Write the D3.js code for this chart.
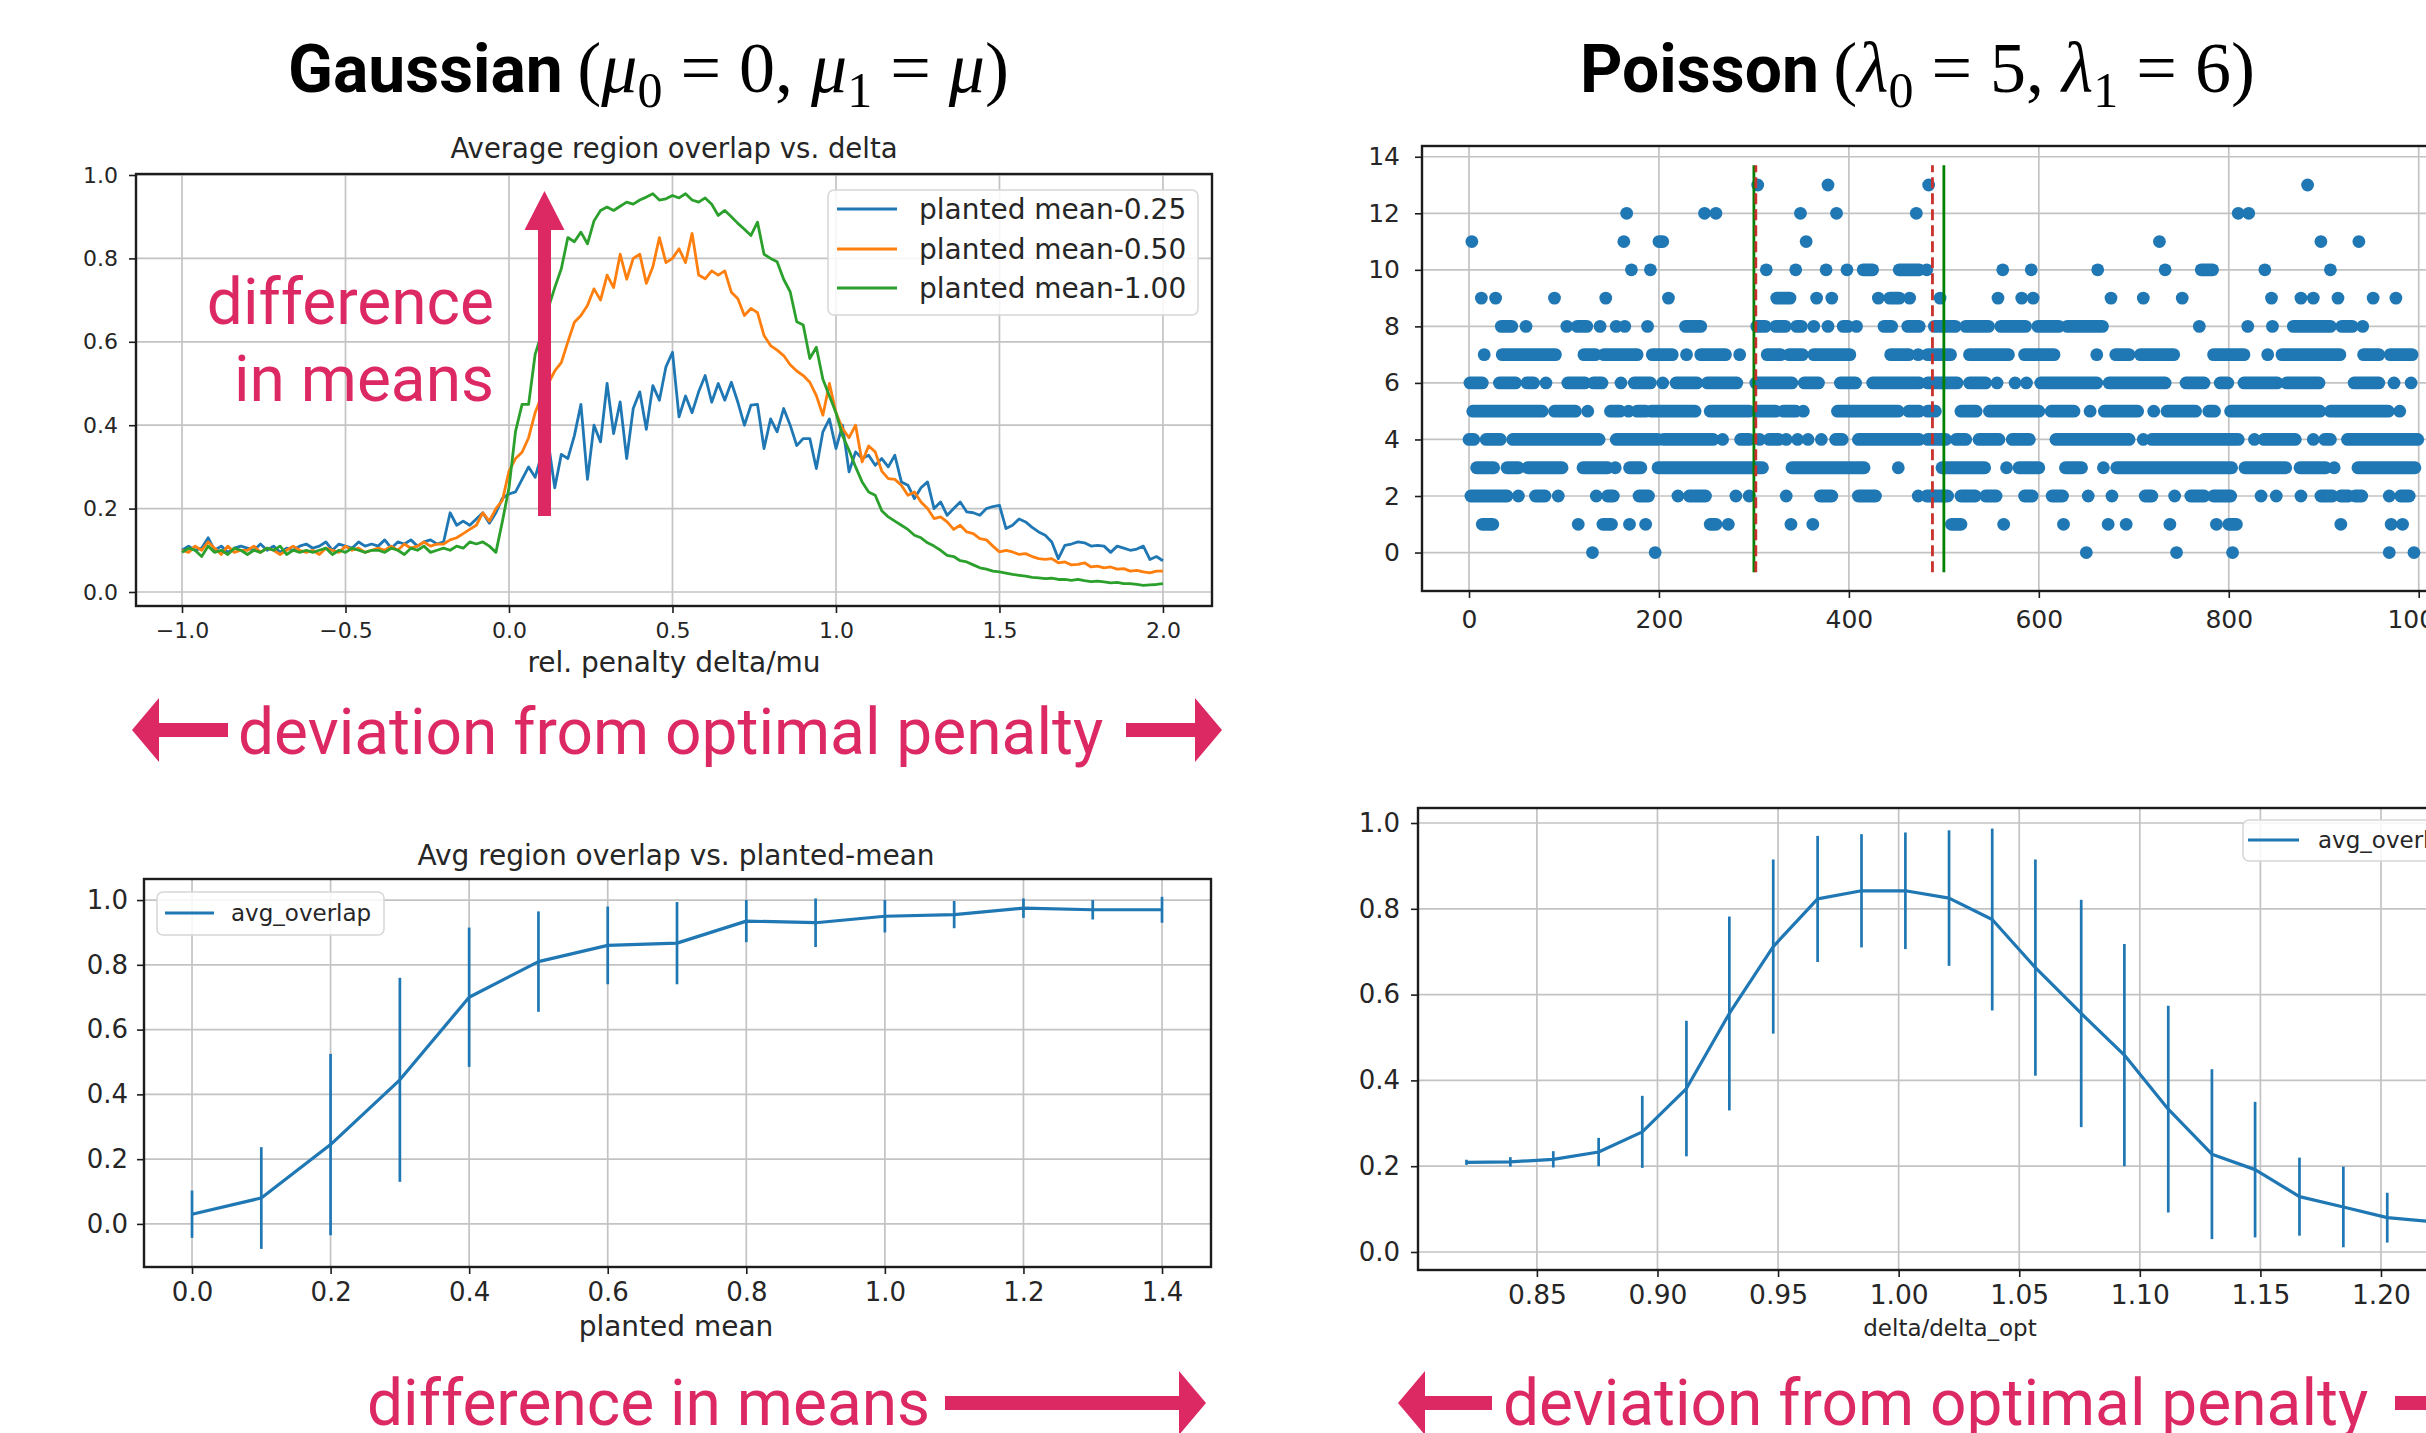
<!DOCTYPE html>
<html><head><meta charset="utf-8">
<script src="https://cdn.jsdelivr.net/npm/d3@7"></script>
<style>body{margin:0;background:#fff;} svg{display:block;}</style>
</head><body>
<svg id="c" width="2426" height="1433"></svg>
<script>
// ---------------- DATA ----------------
// Top-left: average region overlap vs. relative penalty delta/mu
const deltaGrid = d3.range(151).map(i => -1 + 0.02 * i);
const seriesLabels = ['planted mean-0.25', 'planted mean-0.50', 'planted mean-1.00'];
const overlap025 = [
 0.10,0.11,0.10,0.105,0.13,0.10,0.11,0.095,0.105,0.11,
 0.105,0.10,0.115,0.10,0.11,0.095,0.105,0.10,0.11,0.115,
 0.105,0.11,0.12,0.10,0.115,0.11,0.105,0.12,0.11,0.115,
 0.11,0.125,0.105,0.12,0.115,0.125,0.11,0.12,0.125,0.115,
 0.12,0.19,0.16,0.17,0.16,0.175,0.19,0.165,0.19,0.225,
 0.235,0.24,0.27,0.30,0.275,0.33,0.36,0.25,0.33,0.32,
 0.375,0.45,0.27,0.40,0.36,0.50,0.38,0.456,0.32,0.44,
 0.48,0.39,0.495,0.46,0.54,0.575,0.42,0.47,0.43,0.48,
 0.519,0.455,0.50,0.46,0.503,0.455,0.40,0.448,0.45,0.344,
 0.415,0.384,0.44,0.40,0.351,0.368,0.368,0.296,0.384,0.415,
 0.344,0.40,0.288,0.336,0.32,0.328,0.304,0.32,0.30,0.328,
 0.264,0.256,0.224,0.25,0.264,0.20,0.216,0.184,0.20,0.216,
 0.192,0.19,0.184,0.20,0.205,0.208,0.152,0.16,0.175,0.168,
 0.155,0.144,0.136,0.12,0.08,0.112,0.115,0.12,0.118,0.11,
 0.112,0.11,0.095,0.11,0.105,0.10,0.103,0.11,0.078,0.085,0.075];
const overlap050 = [
 0.10,0.095,0.11,0.10,0.12,0.105,0.09,0.11,0.095,0.10,
 0.10,0.11,0.095,0.105,0.10,0.09,0.10,0.11,0.10,0.095,
 0.10,0.09,0.105,0.10,0.095,0.11,0.10,0.105,0.095,0.10,
 0.105,0.10,0.11,0.10,0.115,0.105,0.11,0.12,0.11,0.115,
 0.115,0.125,0.13,0.14,0.15,0.16,0.19,0.17,0.20,0.22,
 0.29,0.32,0.335,0.37,0.43,0.47,0.50,0.53,0.55,0.60,
 0.647,0.663,0.687,0.727,0.70,0.76,0.73,0.81,0.75,0.80,
 0.81,0.74,0.78,0.85,0.79,0.80,0.823,0.79,0.86,0.76,
 0.751,0.77,0.76,0.77,0.719,0.703,0.663,0.68,0.67,0.615,
 0.591,0.58,0.567,0.545,0.53,0.519,0.503,0.471,0.424,0.50,
 0.43,0.392,0.37,0.40,0.312,0.35,0.336,0.29,0.272,0.27,
 0.256,0.232,0.24,0.216,0.20,0.176,0.18,0.168,0.15,0.16,
 0.144,0.14,0.128,0.125,0.11,0.096,0.10,0.096,0.09,0.092,
 0.085,0.08,0.078,0.08,0.07,0.072,0.065,0.066,0.07,0.06,
 0.062,0.058,0.06,0.055,0.056,0.05,0.052,0.048,0.046,0.05,0.05];
const overlap100 = [
 0.095,0.105,0.10,0.085,0.11,0.095,0.10,0.09,0.105,0.10,
 0.09,0.10,0.095,0.105,0.10,0.11,0.09,0.10,0.095,0.10,
 0.095,0.10,0.105,0.09,0.10,0.095,0.105,0.10,0.095,0.10,
 0.10,0.095,0.105,0.10,0.09,0.105,0.10,0.11,0.095,0.10,
 0.105,0.10,0.11,0.105,0.12,0.115,0.12,0.11,0.095,0.17,
 0.25,0.385,0.45,0.45,0.57,0.62,0.68,0.73,0.775,0.85,
 0.84,0.863,0.835,0.89,0.915,0.923,0.915,0.925,0.935,0.93,
 0.94,0.947,0.955,0.94,0.943,0.951,0.945,0.955,0.94,0.935,
 0.945,0.93,0.903,0.915,0.90,0.884,0.87,0.855,0.887,0.81,
 0.80,0.792,0.75,0.72,0.648,0.64,0.56,0.587,0.51,0.47,
 0.43,0.375,0.34,0.30,0.264,0.24,0.232,0.195,0.18,0.17,
 0.16,0.15,0.136,0.13,0.118,0.11,0.10,0.088,0.085,0.075,
 0.072,0.065,0.058,0.055,0.05,0.048,0.045,0.042,0.04,0.038,
 0.035,0.034,0.032,0.033,0.03,0.03,0.028,0.03,0.027,0.025,
 0.026,0.024,0.022,0.023,0.02,0.02,0.018,0.016,0.017,0.018,0.02];

// Top-right: Poisson sequence; for each count level, runs [start, end] of consecutive-looking dots
const poissonRunsByLevel = [
 /*0*/  [[130],[196],[650],[745],[804],[969],[995]],
 /*1*/  [[14,25],[115],[141,150],[169],[186],[254,260],[273],[339],[362],[508,518],[563],[626],[673],[692],[738],[787],[800,808],[918],[971],[983]],
 /*2*/  [[2,40],[52],[70,80],[94],[134],[146,152],[179,189],[220],[232,249],[281],[295],[334],[370,382],[410,428],[473],[482,504],[518,533],[544,555],[585,593],[614,625],[652],[677],[712,719],[743],[760,774],[784,802],[834],[850],[876],[897,909],[918,926],[933,940],[969],[981,990]],
 /*3*/  [[8,26],[40,52],[62,98],[120,146],[154],[169,181],[199,309],[340,416],[452],[498,543],[566],[579,600],[628,645],[668],[682,803],[817,860],[875,902],[911],[936,996]],
 /*4*/  [[0,5],[18,33],[46,137],[155,199],[205,257],[267],[286,295],[306],[316,326],[334],[346],[357],[371],[386,393],[410,474],[483,502],[513,523],[537,558],[572,590],[618,695],[710],[719,810],[827],[837,870],[889],[901,907],[925,999]],
 /*5*/  [[4,77],[90,112],[125],[149,159],[168],[177,186],[192,238],[254,295],[303,323],[331,344],[352],[388,452],[463,474],[483,491],[518,534],[548,600],[613,637],[654],[669,704],[721],[735,765],[779,785],[802,896],[907,968],[980]],
 /*6*/  [[1,14],[32,49],[61,68],[81],[104,122],[131,140],[160],[174,191],[204],[218,240],[251,282],[302,340],[353,368],[391,407],[425,474],[483,514],[527,544],[556],[575],[587],[602,661],[674,733],[755,774],[791,799],[816,851],[861,895],[932,958],[974],[992]],
 /*7*/  [[16],[35,91],[121,133],[142,177],[193,214],[229],[244,270],[285],[314,328],[337,351],[363,401],[444,463],[473],[483,507],[527,568],[585,616],[661],[681,695],[707,742],[784,816],[841],[856,917],[942,958],[970,993]],
 /*8*/  [[34,45],[60],[103],[114,124],[138],[155],[164],[188],[228,244],[303,312],[323,333],[345,350],[363],[378],[394,399],[408],[437,445],[462,474],[490,512],[523,547],[560,586],[599,621],[630,667],[769],[820],[846],[868,907],[919,930],[941]],
 /*9*/  [[13],[28],[90],[144],[210],[324,338],[366],[382],[431],[443,453],[464],[496],[557],[582],[594],[676],[710],[751],[845],[876],[889],[915],[952],[976]],
 /*10*/ [[171],[191],[313],[344],[376],[398],[415,425],[453,474],[482],[562],[592],[662],[733],[771,783],[838],[907]],
 /*11*/ [[3],[163],[200,204],[355],[727],[897],[937]],
 /*12*/ [[166],[248],[260],[349],[387],[471],[810],[821]],
 /*13*/ [[304],[378],[484],[883]]
];
const trueChangepoints = [300, 500];
const estChangepoints = [302, 488];

// Bottom-left: avg overlap vs planted mean
const plantedMean = [0.0,0.1,0.2,0.3,0.4,0.5,0.6,0.7,0.8,0.9,1.0,1.1,1.2,1.3,1.4];
const avgOverlapMean = [0.03,0.08,0.245,0.445,0.70,0.81,0.86,0.867,0.935,0.93,0.95,0.955,0.975,0.97,0.97];
const avgOverlapErr  = [0.073,0.157,0.28,0.315,0.215,0.155,0.12,0.127,0.065,0.075,0.05,0.042,0.03,0.03,0.04];

// Bottom-right: avg overlap vs delta/delta_opt
const deltaRatio = [0.8208,0.8390,0.8568,0.8756,0.8937,0.9120,0.9298,0.9480,0.9664,0.9846,1.0028,1.0209,1.0388,1.0567,1.0757,1.0936,1.1118,1.1299,1.1478,1.1662,1.1844,1.2026,1.2207];
const ratioOverlapMean = [0.209,0.21,0.216,0.233,0.28,0.381,0.556,0.712,0.823,0.842,0.842,0.825,0.775,0.663,0.556,0.459,0.333,0.228,0.192,0.129,0.105,0.08,0.071];
const ratioOverlapErr  = [0.006,0.011,0.019,0.033,0.084,0.158,0.226,0.203,0.147,0.132,0.136,0.158,0.212,0.252,0.265,0.259,0.241,0.198,0.158,0.091,0.094,0.058,0.05];

// ---------------- DRAWING ----------------
const svg = d3.select('#c');
svg.append('rect').attr('width',2426).attr('height',1433).attr('fill','#fff');
const GRID='#c3c3c3', FRAME='#1c1c1c', TXT='#262626';
const BLUE='#1f77b4', ORANGE='#ff7f0e', GREEN='#2ca02c', PINK='#dc2863';
const CF='DejaVu Sans, sans-serif';
const AF='Roboto, "Noto Sans", sans-serif';

function axes(c){
  const [L,R]=c.x.range(), [B,T]=c.y.range();
  const g=svg.append('g');
  g.append('g').selectAll('line').data(c.xt).join('line')
    .attr('x1',d=>c.x(d)).attr('x2',d=>c.x(d)).attr('y1',T).attr('y2',B)
    .attr('stroke',GRID).attr('stroke-width',1.7);
  g.append('g').selectAll('line').data(c.yt).join('line')
    .attr('y1',d=>c.y(d)).attr('y2',d=>c.y(d)).attr('x1',L).attr('x2',R)
    .attr('stroke',GRID).attr('stroke-width',1.7);
  const ax=g.append('g').attr('transform',`translate(0,${B})`)
    .call(d3.axisBottom(c.x).tickValues(c.xt).tickFormat(c.xf).tickSize(7).tickPadding(c.px));
  const ay=g.append('g').attr('transform',`translate(${L},0)`)
    .call(d3.axisLeft(c.y).tickValues(c.yt).tickFormat(c.yf).tickSize(7).tickPadding(c.py));
  [ax,ay].forEach(a=>{
    a.select('.domain').remove();
    a.selectAll('line').attr('stroke',FRAME).attr('stroke-width',1.6);
    a.selectAll('text').attr('fill',TXT).attr('font-family',CF);
  });
  ax.selectAll('text').attr('font-size',c.fx);
  ay.selectAll('text').attr('font-size',c.fy);
  return g;
}
function frame(x,y){
  const [L,R]=x.range(), [B,T]=y.range();
  svg.append('rect').attr('x',L).attr('y',T).attr('width',R-L).attr('height',B-T)
    .attr('fill','none').attr('stroke',FRAME).attr('stroke-width',2.4);
}
function label(txt,x,y,size,anchor='middle'){
  svg.append('text').attr('x',x).attr('y',y).attr('text-anchor',anchor)
    .attr('font-family',CF).attr('font-size',size).attr('fill',TXT).text(txt);
}
function legend(x0,y0,w,h,items,lineX0,lineX1,textX,rowY,fs){
  svg.append('rect').attr('x',x0).attr('y',y0).attr('width',w).attr('height',h).attr('rx',6)
    .attr('fill','#fff').attr('fill-opacity',0.85).attr('stroke','#d6d6d6').attr('stroke-width',1.5);
  items.forEach((it,i)=>{
    svg.append('line').attr('x1',lineX0).attr('x2',lineX1).attr('y1',rowY[i]).attr('y2',rowY[i])
      .attr('stroke',it.color).attr('stroke-width',3.2);
    svg.append('text').attr('x',textX).attr('y',rowY[i]).attr('dy','0.35em')
      .attr('font-family',CF).attr('font-size',fs).attr('fill',TXT).text(it.label);
  });
}

// ---- Chart A (top-left)
const xA=d3.scaleLinear([-1.1407,2.150],[136,1212]);
const yA=d3.scaleLinear([-0.0336,1.0024],[606,174]);
axes({x:xA,y:yA,xt:[-1,-0.5,0,0.5,1,1.5,2],yt:[0,0.2,0.4,0.6,0.8,1.0],
  xf:d3.format('.1f'),yf:d3.format('.1f'),fx:22,fy:22,px:9,py:11});
const lineA=d3.line().x((d,i)=>xA(deltaGrid[i])).y(d=>yA(d));
[[overlap025,BLUE],[overlap050,ORANGE],[overlap100,GREEN]].forEach(([s,col])=>{
  svg.append('path').attr('d',lineA(s)).attr('fill','none').attr('stroke',col)
    .attr('stroke-width',2.8).attr('stroke-linejoin','round');
});
frame(xA,yA);
label('Average region overlap vs. delta',674,158,27.5);
label('rel. penalty delta/mu',674,672,28);
legend(828,190,370,125,seriesLabels.map((l,i)=>({label:l,color:[BLUE,ORANGE,GREEN][i]})),
  837,897,919,[209,249,288],28);

// ---- Chart B (top-right scatter)
const xB=d3.scaleLinear([-49.5,1049.8],[1422,2466]);
const yB=d3.scaleLinear([-1.36,14.38],[591,146]);
axes({x:xB,y:yB,xt:[0,200,400,600,800,1000],yt:[0,2,4,6,8,10,12,14],
  xf:d3.format('d'),yf:d3.format('d'),fx:25,fy:25,px:12,py:15});
const gB=svg.append('g');
poissonRunsByLevel.forEach((runs,lvl)=>{
  runs.forEach(r=>{
    if(r.length===1){
      gB.append('circle').attr('cx',xB(r[0])).attr('cy',yB(lvl)).attr('r',6.4).attr('fill',BLUE);
    } else {
      gB.append('line').attr('x1',xB(r[0])).attr('x2',xB(r[1])).attr('y1',yB(lvl)).attr('y2',yB(lvl))
        .attr('stroke',BLUE).attr('stroke-width',12.8).attr('stroke-linecap','round');
    }
  });
});
trueChangepoints.forEach(v=>{
  svg.append('line').attr('x1',xB(v)).attr('x2',xB(v)).attr('y1',yB(-0.7)).attr('y2',yB(13.7))
    .attr('stroke','#008000').attr('stroke-width',2.8);
});
estChangepoints.forEach(v=>{
  svg.append('line').attr('x1',xB(v)).attr('x2',xB(v)).attr('y1',yB(-0.7)).attr('y2',yB(13.7))
    .attr('stroke','#c8312c').attr('stroke-width',2.8).attr('stroke-dasharray','11,5');
});
frame(xB,yB);

// ---- Chart C (bottom-left)
const xC=d3.scaleLinear([-0.0693,1.4707],[144,1211]);
const yC=d3.scaleLinear([-0.133,1.065],[1267,879]);
axes({x:xC,y:yC,xt:[0,0.2,0.4,0.6,0.8,1.0,1.2,1.4],yt:[0,0.2,0.4,0.6,0.8,1.0],
  xf:d3.format('.1f'),yf:d3.format('.1f'),fx:26,fy:26,px:9,py:9});
svg.append('g').selectAll('line').data(plantedMean).join('line')
  .attr('x1',d=>xC(d)).attr('x2',d=>xC(d))
  .attr('y1',(d,i)=>yC(avgOverlapMean[i]-avgOverlapErr[i]))
  .attr('y2',(d,i)=>yC(avgOverlapMean[i]+avgOverlapErr[i]))
  .attr('stroke',BLUE).attr('stroke-width',2.7);
svg.append('path').attr('d',d3.line().x((d,i)=>xC(plantedMean[i])).y(d=>yC(d))(avgOverlapMean))
  .attr('fill','none').attr('stroke',BLUE).attr('stroke-width',3.2).attr('stroke-linejoin','round');
frame(xC,yC);
label('Avg region overlap vs. planted-mean',676,865,28);
label('planted mean',676,1336,28);
legend(157,892,227,43,[{label:'avg_overlap',color:BLUE}],165,214,231,[913],23);

// ---- Chart D (bottom-right)
const xD=d3.scaleLinear([0.8007,1.2394],[1418,2476]);
const yD=d3.scaleLinear([-0.042,1.035],[1270,808]);
axes({x:xD,y:yD,xt:[0.85,0.9,0.95,1.0,1.05,1.1,1.15,1.2,1.25],yt:[0,0.2,0.4,0.6,0.8,1.0],
  xf:d3.format('.2f'),yf:d3.format('.1f'),fx:26.5,fy:26,px:8,py:11});
svg.append('g').selectAll('line').data(deltaRatio).join('line')
  .attr('x1',d=>xD(d)).attr('x2',d=>xD(d))
  .attr('y1',(d,i)=>yD(ratioOverlapMean[i]-ratioOverlapErr[i]))
  .attr('y2',(d,i)=>yD(ratioOverlapMean[i]+ratioOverlapErr[i]))
  .attr('stroke',BLUE).attr('stroke-width',2.7);
svg.append('path').attr('d',d3.line().x((d,i)=>xD(deltaRatio[i])).y(d=>yD(d))(ratioOverlapMean))
  .attr('fill','none').attr('stroke',BLUE).attr('stroke-width',3.2).attr('stroke-linejoin','round');
frame(xD,yD);
label('delta/delta_opt',1950,1336,23);
legend(2243,820,260,41,[{label:'avg_overlap',color:BLUE}],2248,2299,2318,[840],23);

// ---- Big titles
function mathTitle(x, y, bold, sym, sub0, val0, sub1, val1, symItalicLast){
  const t=svg.append('text').attr('x',x).attr('y',y).attr('fill','#000');
  t.append('tspan').attr('font-family',AF).attr('font-weight','bold').attr('font-size',66).text(bold);
  const M='"Liberation Serif", "DejaVu Serif", serif';
  const add=(s,opts={})=>{const ts=t.append('tspan').attr('font-family',M).attr('font-size',opts.fs||72).text(s);
    if(opts.it) ts.attr('font-style','italic'); if(opts.dy) ts.attr('dy',opts.dy); return ts;};
  add('\u2009(');
  add(sym,{it:1}); add(sub0,{fs:50,dy:15}); add(' = ',{dy:-15}); add(val0+', ');
  add(sym,{it:1}); add(sub1,{fs:50,dy:15}); add(' = ',{dy:-15});
  add(val1,{it:symItalicLast}); add(')');
}
mathTitle(288,92,'Gaussian','\u03bc','0','0','1','\u03bc',1);
mathTitle(1580,92,'Poisson','\u03bb','0','5','1','6',0);

// ---- Pink annotations
function hArrow(s,tip,cy){
  const dir=Math.sign(tip-s), base=tip-dir*27, sh=7, hh=32;
  return `M${s},${cy-sh} L${base},${cy-sh} L${base},${cy-hh} L${tip},${cy} L${base},${cy+hh} L${base},${cy+sh} L${s},${cy+sh} Z`;
}
function vArrow(cx,bottom,tip){
  const base=tip+39, sw=6.5, hw=20;
  return `M${cx-sw},${bottom} L${cx-sw},${base} L${cx-hw},${base} L${cx},${tip} L${cx+hw},${base} L${cx+sw},${base} L${cx+sw},${bottom} Z`;
}
function ptext(txt,x,y,anchor='start'){
  svg.append('text').attr('x',x).attr('y',y).attr('text-anchor',anchor)
    .attr('font-family',AF).attr('font-size',64).attr('fill',PINK).text(txt);
}
svg.append('path').attr('d',vArrow(544.5,516,191)).attr('fill',PINK);
ptext('difference',494,324,'end');
ptext('in means',494,401,'end');
svg.append('path').attr('d',hArrow(228,132,730)).attr('fill',PINK);
svg.append('path').attr('d',hArrow(1126,1222,730)).attr('fill',PINK);
ptext('deviation from optimal penalty',238,754);
ptext('difference in means',367,1425);
svg.append('path').attr('d',hArrow(945,1206,1403)).attr('fill',PINK);
svg.append('path').attr('d',hArrow(1492,1398,1403)).attr('fill',PINK);
ptext('deviation from optimal penalty',1503,1425);
svg.append('path').attr('d',hArrow(2395,2500,1403)).attr('fill',PINK);
</script>
</body></html>
